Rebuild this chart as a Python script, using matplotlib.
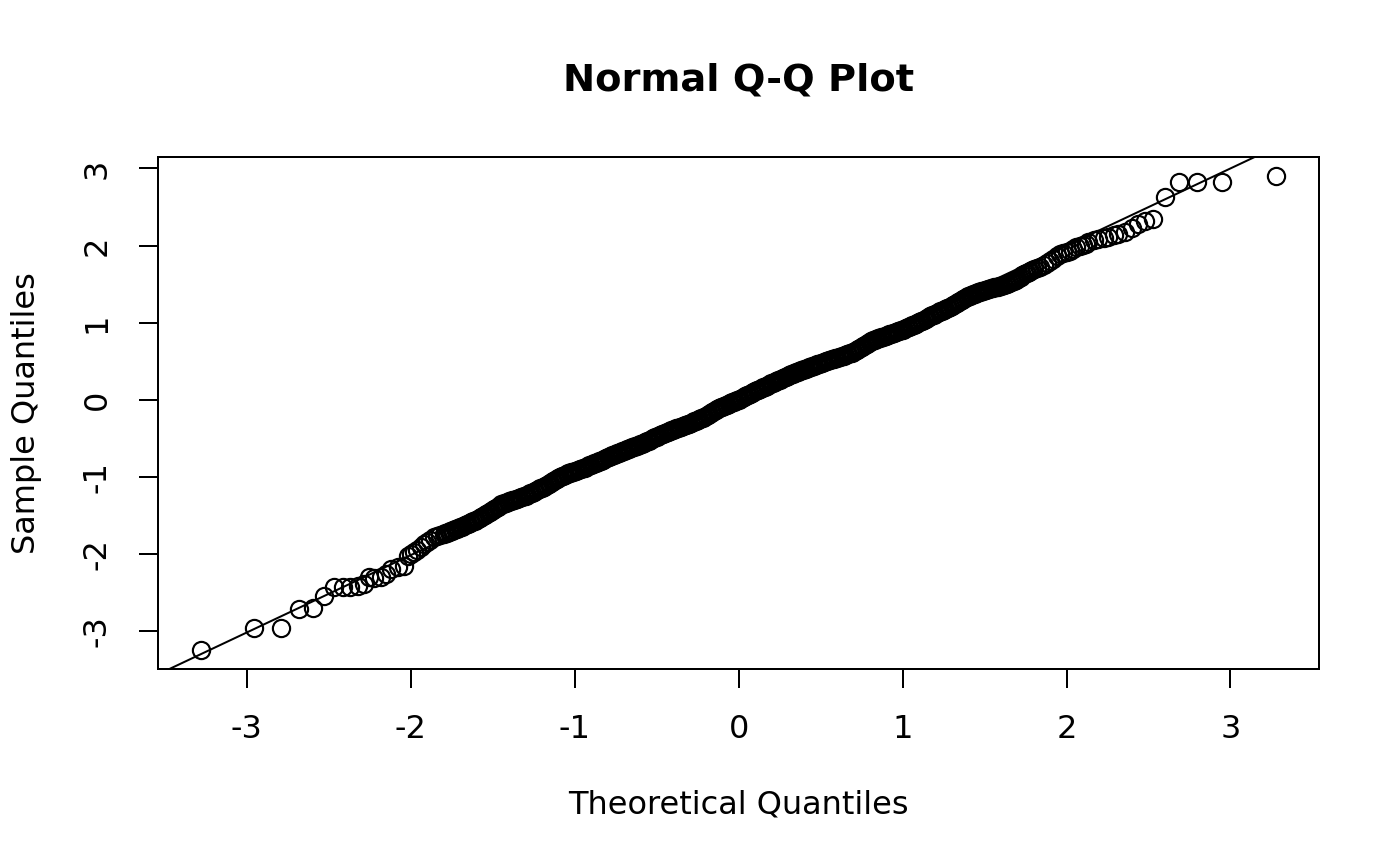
import numpy as np
import matplotlib
matplotlib.use("Agg")
import matplotlib.pyplot as plt

plt.rcParams['font.family'] = ['DejaVu Sans']
plt.rcParams['axes.unicode_minus'] = False

# ---- data ----
title = "Normal Q-Q Plot"
x_label = "Theoretical Quantiles"
y_label = "Sample Quantiles"
tick_values = [-3, -2, -1, 0, 1, 2, 3]

# individually visible points in the lower tail (theoretical, sample)
lower_tail_x = [-3.280, -2.955, -2.793, -2.685, -2.599, -2.529, -2.471, -2.416, -2.370,
                -2.325, -2.285, -2.254, -2.224, -2.183, -2.152, -2.122, -2.081, -2.041, -2.020]
lower_tail_y = [-3.249, -2.964, -2.964, -2.717, -2.708, -2.545, -2.428, -2.436, -2.428,
                -2.415, -2.393, -2.306, -2.319, -2.306, -2.263, -2.198, -2.176, -2.156, -2.026]

# sparse ring section before the dense band
lower_mid_x = [-2.00, -1.98, -1.96, -1.94, -1.92, -1.90, -1.88, -1.86, -1.84, -1.82]
lower_mid_y = [-2.005, -1.975, -1.945, -1.910, -1.875, -1.845, -1.815, -1.788, -1.775, -1.760]

# dense band, sample quantiles read every 0.01 of theoretical quantile from -1.80 to 1.80
band_start = -1.80
band_step = 0.01
band_y = [
    -1.745, -1.736, -1.727, -1.718, -1.709, -1.700, -1.691, -1.682, -1.673, -1.664,
    -1.655, -1.646, -1.637, -1.628, -1.619, -1.610, -1.600, -1.590, -1.580, -1.570,
    -1.560, -1.548, -1.536, -1.524, -1.512, -1.500, -1.486, -1.472, -1.458, -1.444,
    -1.430, -1.416, -1.402, -1.388, -1.374, -1.360, -1.352, -1.344, -1.336, -1.328,
    -1.320, -1.313, -1.306, -1.299, -1.292, -1.285, -1.277, -1.269, -1.261, -1.253,
    -1.245, -1.235, -1.225, -1.215, -1.205, -1.195, -1.184, -1.173, -1.162, -1.151,
    -1.140, -1.128, -1.116, -1.104, -1.092, -1.080, -1.067, -1.054, -1.041, -1.028,
    -1.015, -1.005, -0.995, -0.985, -0.975, -0.965, -0.958, -0.951, -0.944, -0.937,
    -0.930, -0.922, -0.914, -0.906, -0.898, -0.890, -0.881, -0.872, -0.863, -0.854,
    -0.845, -0.836, -0.827, -0.818, -0.809, -0.800, -0.790, -0.780, -0.770, -0.760,
    -0.750, -0.741, -0.732, -0.723, -0.714, -0.705, -0.696, -0.687, -0.678, -0.669,
    -0.660, -0.652, -0.644, -0.636, -0.628, -0.620, -0.612, -0.604, -0.596, -0.588,
    -0.580, -0.570, -0.560, -0.550, -0.540, -0.530, -0.520, -0.510, -0.500, -0.490,
    -0.480, -0.470, -0.461, -0.451, -0.442, -0.432, -0.424, -0.415, -0.407, -0.398,
    -0.390, -0.382, -0.374, -0.366, -0.358, -0.350, -0.342, -0.334, -0.326, -0.318,
    -0.310, -0.301, -0.292, -0.283, -0.274, -0.265, -0.254, -0.243, -0.232, -0.221,
    -0.210, -0.197, -0.184, -0.171, -0.158, -0.145, -0.134, -0.123, -0.112, -0.101,
    -0.090, -0.081, -0.072, -0.063, -0.054, -0.045, -0.036, -0.027, -0.018, -0.009,
    0.000, 0.011, 0.022, 0.033, 0.044, 0.055, 0.066, 0.077, 0.088, 0.099,
    0.110, 0.120, 0.130, 0.140, 0.150, 0.160, 0.170, 0.180, 0.190, 0.200,
    0.210, 0.220, 0.230, 0.240, 0.250, 0.260, 0.270, 0.280, 0.290, 0.300,
    0.310, 0.319, 0.328, 0.337, 0.346, 0.355, 0.363, 0.371, 0.379, 0.387,
    0.395, 0.403, 0.411, 0.419, 0.427, 0.435, 0.443, 0.451, 0.459, 0.467,
    0.475, 0.482, 0.489, 0.496, 0.503, 0.510, 0.517, 0.524, 0.531, 0.538,
    0.545, 0.552, 0.559, 0.566, 0.573, 0.580, 0.588, 0.596, 0.604, 0.612,
    0.620, 0.632, 0.644, 0.656, 0.668, 0.680, 0.694, 0.708, 0.722, 0.736,
    0.750, 0.760, 0.770, 0.780, 0.790, 0.800, 0.806, 0.812, 0.818, 0.824,
    0.830, 0.838, 0.846, 0.854, 0.862, 0.870, 0.878, 0.886, 0.894, 0.902,
    0.910, 0.919, 0.928, 0.937, 0.946, 0.955, 0.965, 0.975, 0.985, 0.995,
    1.005, 1.016, 1.027, 1.038, 1.049, 1.060, 1.071, 1.082, 1.093, 1.104,
    1.115, 1.125, 1.135, 1.145, 1.155, 1.165, 1.175, 1.185, 1.195, 1.205,
    1.215, 1.229, 1.243, 1.257, 1.271, 1.285, 1.296, 1.307, 1.318, 1.329,
    1.340, 1.349, 1.358, 1.367, 1.376, 1.385, 1.392, 1.399, 1.406, 1.413,
    1.420, 1.426, 1.432, 1.438, 1.444, 1.450, 1.456, 1.462, 1.468, 1.474,
    1.480, 1.486, 1.492, 1.498, 1.504, 1.510, 1.522, 1.534, 1.546, 1.558,
    1.570, 1.584, 1.598, 1.612, 1.626, 1.640, 1.650, 1.660, 1.670, 1.680,
    1.690,
]

# sparse ring section after the dense band
upper_mid_x = [1.82, 1.84, 1.86, 1.88, 1.90, 1.92, 1.94, 1.96, 1.98, 2.00,
               2.02, 2.04, 2.06, 2.08, 2.10, 2.12]
upper_mid_y = [1.710, 1.728, 1.745, 1.770, 1.800, 1.822, 1.860, 1.885, 1.900, 1.915,
               1.930, 1.955, 1.975, 1.992, 2.010, 2.025]

# individually visible points in the upper tail
upper_tail_x = [2.134, 2.165, 2.195, 2.226, 2.256, 2.287, 2.317, 2.358, 2.399,
                2.439, 2.480, 2.530, 2.602, 2.689, 2.795, 2.951, 3.278]
upper_tail_y = [2.047, 2.073, 2.091, 2.104, 2.117, 2.134, 2.147, 2.176, 2.233,
                2.276, 2.319, 2.350, 2.636, 2.825, 2.825, 2.830, 2.903]

# reference line (qqline)
qqline_intercept = -0.01
qqline_slope = 1.0035

# ---- assemble ----
band_x = band_start + band_step * np.arange(len(band_y))
theo = np.concatenate([lower_tail_x, lower_mid_x, band_x, upper_mid_x, upper_tail_x])
samp = np.concatenate([lower_tail_y, lower_mid_y, band_y, upper_mid_y, upper_tail_y])

W, H, DPI = 1400, 866, 100
fig = plt.figure(figsize=(W / DPI, H / DPI), dpi=DPI)
ax = fig.add_axes([158 / W, 1 - 669 / H, (1319 - 158) / W, (669 - 157) / H])

lw = 1.44  # 2 px
ax.plot(theo, samp, linestyle='none', marker='o', markersize=12.4,
        markerfacecolor='none', markeredgecolor='black', markeredgewidth=1.55)
ax.axline((0, qqline_intercept), slope=qqline_slope, color='black', linewidth=lw)

# R-style 4% axis extension
xr = theo.max() - theo.min()
yr = samp.max() - samp.min()
ax.set_xlim(theo.min() - 0.04 * xr, theo.max() + 0.04 * xr)
ax.set_ylim(samp.min() - 0.04 * yr, samp.max() + 0.04 * yr)

ax.set_xticks(tick_values)
ax.set_yticks(tick_values)
ax.set_xticklabels([str(v) for v in tick_values])
ax.set_yticklabels([str(v) for v in tick_values])
ax.tick_params(axis='both', length=13.7, width=lw, labelsize=23, pad=19, color='black')
for lab in ax.get_yticklabels():
    lab.set_rotation(90)
    lab.set_verticalalignment('center')
for s in ax.spines.values():
    s.set_linewidth(lw)
    s.set_color('black')

cx = (158 + 1319) / 2 / W
fig.text(cx, 1 - 80 / H, title, ha='center', va='center', fontsize=27.6, fontweight='bold')
fig.text(cx, 1 - 805 / H, x_label, ha='center', va='center', fontsize=23)
fig.text(27 / W, 1 - 413 / H, y_label, ha='center', va='center', fontsize=23, rotation=90)

fig.savefig("out.png", dpi=DPI)
